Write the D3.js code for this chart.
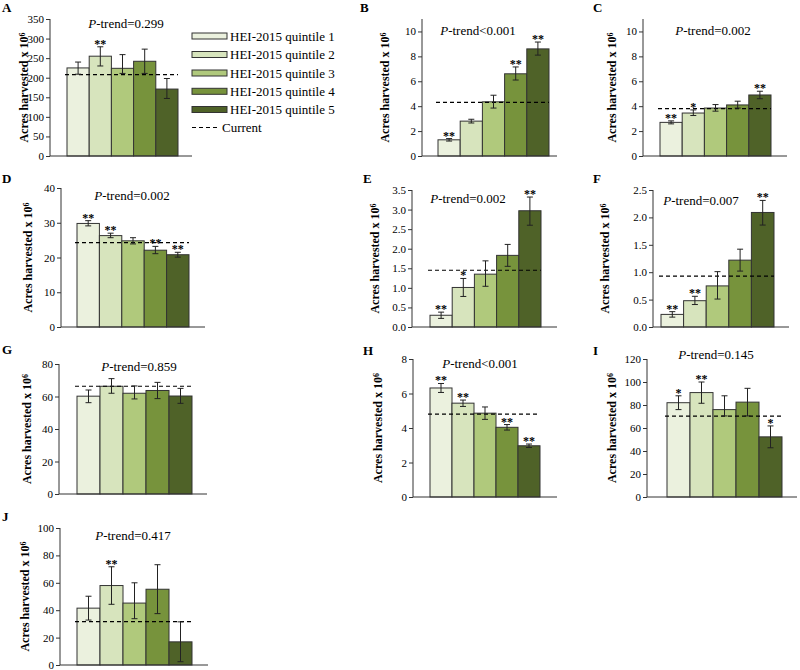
<!DOCTYPE html>
<html><head><meta charset="utf-8">
<script src="https://cdn.jsdelivr.net/npm/d3@7"></script>
<style>body{margin:0;background:#fff} text{font-family:"Liberation Serif","Times New Roman",serif;fill:#000}</style>
</head><body><svg id="c" width="800" height="670"></svg>
<script>
// ---------------- DATA ----------------
const quintiles = ["HEI-2015 quintile 1","HEI-2015 quintile 2","HEI-2015 quintile 3","HEI-2015 quintile 4","HEI-2015 quintile 5"];
const currentLabel = "Current";
const panelIds = ["A","B","C","D","E","F","G","H","I","J"];
const pTrends = ["=0.299","<0.001","=0.002","=0.002","=0.002","=0.007","=0.859","<0.001","=0.145","=0.417"];
const currentValues = [208, 4.3, 3.8, 24.3, 1.45, 0.93, 66.3, 4.8, 70.3, 31.7];
const yMax = [350, 11, 11, 40, 3.5, 2.5, 80, 8, 120, 100];
const tickMax = [350, 10, 10, 40, 3.5, 2.5, 80, 8, 120, 100];
const tickStep = [50, 2, 2, 10, 0.5, 0.5, 20, 2, 20, 20];
const tickDecimals = [0, 0, 0, 0, 1, 1, 0, 0, 0, 0];
const means = [
  [225, 255, 224, 242, 171],
  [1.3, 2.8, 4.35, 6.6, 8.6],
  [2.7, 3.45, 3.85, 4.1, 4.9],
  [29.8, 26.3, 24.8, 22.1, 20.8],
  [0.3, 1.01, 1.35, 1.83, 2.97],
  [0.23, 0.48, 0.75, 1.22, 2.09],
  [60.2, 66.3, 62, 63.7, 60.3],
  [6.32, 5.44, 4.86, 4.04, 2.97],
  [82, 90.8, 76, 82.5, 52.3],
  [41.5, 58, 45.2, 55.3, 16.9]
];
const errLow = [
  [209, 230, 211, 211, 147],
  [1.2, 2.65, 3.85, 6.1, 8.1],
  [2.58, 3.25, 3.6, 3.85, 4.6],
  [29.1, 25.7, 23.9, 21.1, 20.1],
  [0.22, 0.78, 1.04, 1.55, 2.6],
  [0.18, 0.41, 0.51, 1.02, 1.86],
  [56.2, 62, 58.5, 58.7, 55.8],
  [6.06, 5.25, 4.5, 3.88, 2.87],
  [76, 81.5, 70.5, 70.5, 42.8],
  [32.8, 44.3, 33.8, 37.5, 2.4]
];
const errHigh = [
  [240, 279, 259, 273, 198],
  [1.4, 2.95, 4.88, 7.15, 9.15],
  [2.82, 3.7, 4.13, 4.4, 5.2],
  [30.6, 27.0, 25.7, 23.2, 21.5],
  [0.38, 1.24, 1.69, 2.11, 3.32],
  [0.28, 0.56, 1.01, 1.42, 2.31],
  [64, 71, 66.5, 68.7, 65],
  [6.58, 5.62, 5.22, 4.2, 3.07],
  [88, 100, 88, 94.5, 61.8],
  [50.2, 71.7, 60, 73.2, 31.5]
];
const stars = [
  ["", "**", "", "", ""],
  ["**", "", "", "**", "**"],
  ["**", "*", "", "", "**"],
  ["**", "**", "", "**", "**"],
  ["**", "*", "", "", "**"],
  ["**", "**", "", "", "**"],
  ["", "", "", "", ""],
  ["**", "**", "", "**", "**"],
  ["*", "**", "", "", "*"],
  ["", "**", "", "", ""]
];
const colors = ["#EBF1DE", "#D7E4BD", "#B0C97C", "#77933C", "#4F6228"];

// ---------------- LAYOUT ----------------
const layout = [
  {ax:50,  b0:67,  b1:178, xEnd:192, top:19,  bottom:156, tx:24,  lx:2,   ly:12,  px:126, py:28},
  {ax:422, b0:438, b1:549, xEnd:557, top:19,  bottom:156, tx:385, lx:360, ly:12,  px:478, py:35},
  {ax:643, b0:660, b1:771, xEnd:787, top:19,  bottom:156, tx:612, lx:593, ly:12,  px:713, py:35},
  {ax:61,  b0:77,  b1:189, xEnd:205, top:188, bottom:327, tx:28,  lx:2,   ly:183, px:132, py:200},
  {ax:412, b0:430, b1:541, xEnd:557, top:190, bottom:327, tx:375, lx:363, ly:183, px:468, py:203},
  {ax:653, b0:661, b1:774, xEnd:789, top:190, bottom:327, tx:605, lx:593, ly:183, px:701, py:205},
  {ax:59,  b0:77,  b1:192, xEnd:207, top:364, bottom:494, tx:27,  lx:2,   ly:354, px:139, py:371},
  {ax:413, b0:430, b1:540, xEnd:557, top:359, bottom:497, tx:378, lx:363, ly:355, px:480, py:368},
  {ax:647, b0:667, b1:782, xEnd:797, top:359, bottom:497, tx:612, lx:593, ly:355, px:716, py:359},
  {ax:60,  b0:77,  b1:192, xEnd:208, top:528, bottom:665, tx:25,  lx:2,   ly:521, px:133, py:540}
];

const svg = d3.select("#c");

panelIds.forEach((id, i) => {
  const L = layout[i];
  const g = svg.append("g");
  const y = d3.scaleLinear().domain([0, yMax[i]]).range([L.bottom, L.top]);
  const x = d3.scaleBand().domain(quintiles).range([L.b0, L.b1]).padding(0);
  const ticks = d3.range(0, tickMax[i] + tickStep[i] / 2, tickStep[i]);

  // bars
  g.selectAll("rect.bar").data(quintiles).enter().append("rect")
    .attr("x", d => x(d)).attr("width", x.bandwidth())
    .attr("y", (d, k) => y(means[i][k]))
    .attr("height", (d, k) => y(0) - y(means[i][k]))
    .attr("fill", (d, k) => colors[k])
    .attr("stroke", "#333").attr("stroke-width", 1);

  // current dashed line
  g.append("line")
    .attr("x1", L.b0 - 2).attr("x2", L.b1)
    .attr("y1", y(currentValues[i])).attr("y2", y(currentValues[i]))
    .attr("stroke", "#000").attr("stroke-width", 1.2).attr("stroke-dasharray", "4,3");

  // error bars
  quintiles.forEach((q, k) => {
    const cx = x(q) + x.bandwidth() / 2;
    const eg = g.append("g").attr("stroke", "#222").attr("stroke-width", 1);
    eg.append("line").attr("x1", cx).attr("x2", cx).attr("y1", y(errLow[i][k])).attr("y2", y(errHigh[i][k]));
    eg.append("line").attr("x1", cx - 3).attr("x2", cx + 3).attr("y1", y(errLow[i][k])).attr("y2", y(errLow[i][k]));
    eg.append("line").attr("x1", cx - 3).attr("x2", cx + 3).attr("y1", y(errHigh[i][k])).attr("y2", y(errHigh[i][k]));
    if (stars[i][k]) {
      g.append("text").attr("x", cx).attr("y", y(errHigh[i][k]) + 1)
        .attr("text-anchor", "middle").style("font-size", "12px").style("font-weight", "bold")
        .text(stars[i][k]);
    }
  });

  // y axis
  const yAxis = d3.axisLeft(y).tickValues(ticks).tickSize(4).tickPadding(2)
    .tickFormat(d3.format("." + tickDecimals[i] + "f"));
  const ag = g.append("g").attr("transform", `translate(${L.ax},0)`).call(yAxis);
  ag.select(".domain").attr("stroke", "#333").attr("d", `M0,${L.top}V${L.bottom}`);
  ag.selectAll(".tick line").attr("stroke", "#333");
  ag.selectAll(".tick text").style("font-size", "11px").style("font-family", '"Liberation Serif",serif').attr("fill", "#000");

  // x axis line
  g.append("line").attr("x1", L.ax).attr("x2", L.xEnd).attr("y1", L.bottom).attr("y2", L.bottom)
    .attr("stroke", "#333").attr("stroke-width", 1);

  // y axis title
  const tt = g.append("text")
    .attr("transform", `translate(${L.tx},${(L.top + L.bottom) / 2}) rotate(-90)`)
    .attr("text-anchor", "middle").attr("dy", "0.35em")
    .style("font-size", "12px").style("font-weight", "bold");
  tt.append("tspan").text("Acres harvested x 10");
  tt.append("tspan").attr("dy", "-0.4em").style("font-size", "8px").text("6");

  // P-trend
  const pt = g.append("text").attr("x", L.px).attr("y", L.py).attr("text-anchor", "middle").style("font-size", "13px");
  pt.append("tspan").style("font-style", "italic").text("P");
  pt.append("tspan").text("-trend" + pTrends[i]);

  // panel letter
  g.append("text").attr("x", L.lx).attr("y", L.ly).style("font-size", "13px").style("font-weight", "bold").text(id);
});

// ---------------- LEGEND ----------------
const lg = svg.append("g");
const legendY = [36, 54.5, 73, 91.3, 109.5];
quintiles.forEach((q, k) => {
  lg.append("rect").attr("x", 192).attr("y", legendY[k] - 3).attr("width", 35).attr("height", 6)
    .attr("fill", colors[k]).attr("stroke", "#333").attr("stroke-width", 1);
  lg.append("text").attr("x", 230).attr("y", legendY[k]).attr("dy", "0.35em").style("font-size", "13px").text(q);
});
lg.append("line").attr("x1", 192).attr("x2", 218).attr("y1", 127.5).attr("y2", 127.5)
  .attr("stroke", "#000").attr("stroke-width", 1.2).attr("stroke-dasharray", "4,3");
lg.append("text").attr("x", 222).attr("y", 127.5).attr("dy", "0.35em").style("font-size", "13px").text(currentLabel);
</script>
</body></html>
